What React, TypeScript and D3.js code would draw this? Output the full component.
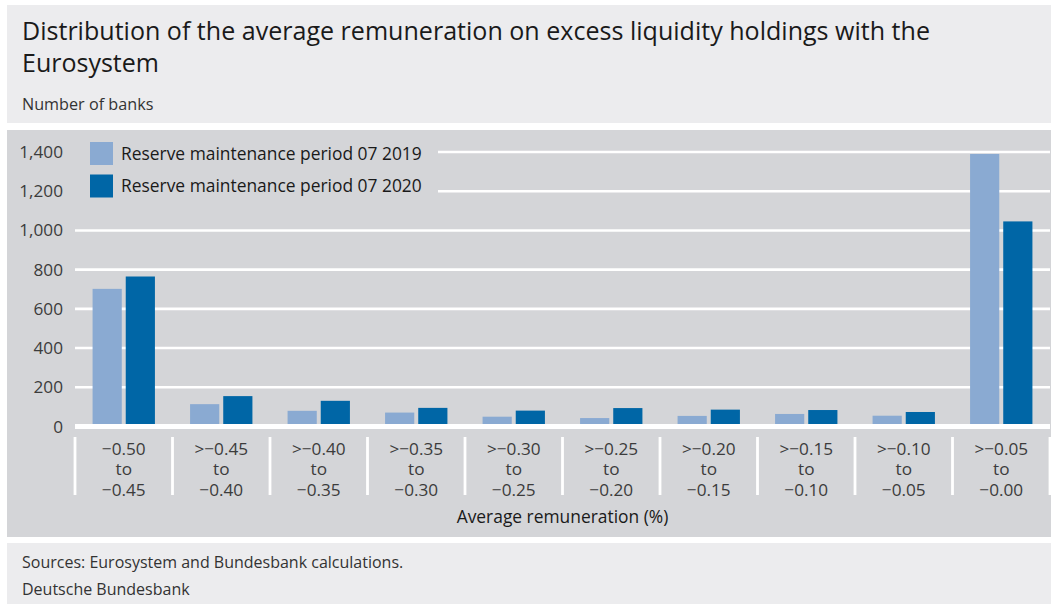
import * as d3 from 'd3';

const categories = [
  ['\u22120.50', 'to', '\u22120.45'],
  ['>\u22120.45', 'to', '\u22120.40'],
  ['>\u22120.40', 'to', '\u22120.35'],
  ['>\u22120.35', 'to', '\u22120.30'],
  ['>\u22120.30', 'to', '\u22120.25'],
  ['>\u22120.25', 'to', '\u22120.20'],
  ['>\u22120.20', 'to', '\u22120.15'],
  ['>\u22120.15', 'to', '\u22120.10'],
  ['>\u22120.10', 'to', '\u22120.05'],
  ['>\u22120.05', 'to', '\u22120.00'],
];
const seriesNames = ['Reserve maintenance period 07 2019', 'Reserve maintenance period 07 2020'];
const values2019 = [702, 114, 80, 71, 50, 43, 54, 64, 55, 1390];
const values2020 = [765, 155, 131, 95, 81, 94, 86, 84, 74, 1046];
const yTicks = [0, 200, 400, 600, 800, 1000, 1200, 1400];
const colors = ['#8aaad2', '#0066a6'];

const W = 1051;
const H = 604;
const font = '"Open Sans", "Noto Sans", sans-serif';

export default function App() {
  const x0 = d3.scaleBand<number>()
    .domain(d3.range(categories.length))
    .range([75, 1050]);
  const x1 = d3.scaleBand<number>()
    .domain([0, 1])
    .range([0, x0.bandwidth()])
    .paddingInner(0.12)
    .paddingOuter(0.53);
  const y = d3.scaleLinear().domain([0, 1400]).range([426.5, 152]);
  const fmt = d3.format(',');
  const series = [values2019, values2020];

  return (
    <svg width={W} height={H} style={{ position: 'absolute', left: 0, top: 0, background: '#fff' }}
      fontFamily={font}>
      {/* title box */}
      <rect x={7} y={5} width={W - 7} height={118} fill="#ececee" />
      <text x={22} y={40} fontSize={25} fill="#1a1a1a" textLength={908} lengthAdjust="spacingAndGlyphs">
        Distribution of the average remuneration on excess liquidity holdings with the
      </text>
      <text x={22} y={72} fontSize={25} fill="#1a1a1a">Eurosystem</text>
      <text x={22} y={104} dy="0.35em" fontSize={16.2} fill="#333">Number of banks</text>

      {/* plot box */}
      <rect x={7} y={130} width={W - 7} height={407} fill="#d4d5d8" />
      {yTicks.filter(t => t > 0).map(t => (
        <line key={t} x1={75} x2={1050} y1={y(t)} y2={y(t)} stroke="#fff" strokeWidth={2.6} />
      ))}
      {yTicks.map(t => (
        <text key={t} x={63} y={y(t)} dy="0.35em" textAnchor="end" fontSize={17.2} fill="#3c3c3c">
          {fmt(t)}
        </text>
      ))}

      {series.map((vals, s) => vals.map((v, i) => (
        <rect key={`${s}-${i}`} x={(x0(i) ?? 0) + (x1(s) ?? 0)} y={y(v)}
          width={x1.bandwidth()} height={y(0) - y(v)} fill={colors[s]} />
      )))}

      <line x1={75} x2={1050} y1={y(0)} y2={y(0)} stroke="#fff" strokeWidth={5} />

      {/* legend */}
      <rect x={75} y={136} width={363} height={66} fill="#d4d5d8" />
      {seriesNames.map((n, s) => (
        <g key={n} transform={`translate(90, ${142 + s * 32.5})`}>
          <rect width={23} height={23} fill={colors[s]} />
          <text x={31} y={11.5} dy="0.35em" fontSize={17.4} fill="#1a1a1a">{n}</text>
        </g>
      ))}

      {/* x axis separators and labels */}
      {d3.range(categories.length + 1).map(i => {
        const xx = i < categories.length ? (x0(i) ?? 0) : 1050;
        return <line key={i} x1={xx} x2={xx} y1={437} y2={495} stroke="#fff" strokeWidth={2.8} />;
      })}
      {categories.map((c, i) => (
        <text key={i} textAnchor="middle" fontSize={17.2} fill="#3c3c3c">
          {c.map((l, k) => (
            <tspan key={k} x={(x0(i) ?? 0) + x0.bandwidth() / 2} y={448.5 + k * 20.5} dy="0.35em">{l}</tspan>
          ))}
        </text>
      ))}
      <text x={562.5} y={516.5} dy="0.35em" textAnchor="middle" fontSize={17.4} fill="#1a1a1a">
        Average remuneration (%)
      </text>

      {/* footer */}
      <rect x={7} y={543} width={W - 7} height={H - 543} fill="#ececee" />
      <text x={22} y={562} dy="0.35em" fontSize={16} fill="#333">
        Sources: Eurosystem and Bundesbank calculations.
      </text>
      <text x={22} y={589} dy="0.35em" fontSize={16} fill="#333">Deutsche Bundesbank</text>
    </svg>
  );
}
